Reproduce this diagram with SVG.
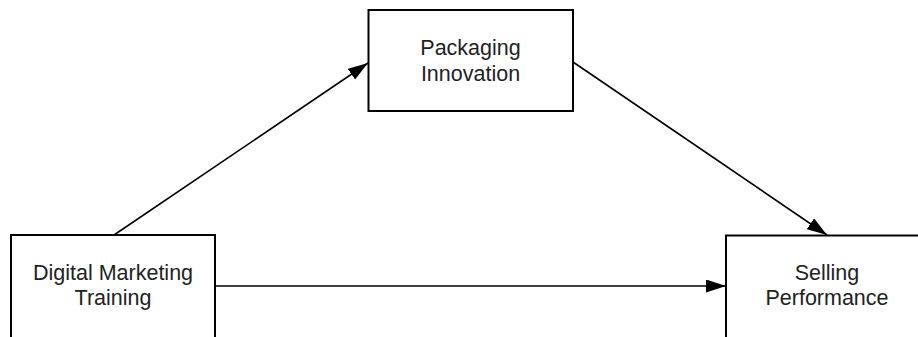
<svg xmlns="http://www.w3.org/2000/svg" width="918" height="337" viewBox="0 0 918 337">
<style>
.box{fill:#fff;stroke:#000;stroke-width:2}
.lbl{font-family:"Liberation Sans",Arial,sans-serif;font-size:21.5px;fill:#222;text-anchor:middle}
.edge{stroke:#000;stroke-width:1.6;fill:none;marker-end:url(#ah)}
</style>
<defs>
<marker id="ah" markerUnits="userSpaceOnUse" markerWidth="21" markerHeight="14" refX="20" refY="6.5" orient="auto">
<path d="M0,0 L20,6.5 L0,13 z" fill="#000"/>
</marker>
</defs>
<rect width="918" height="337" fill="#fff"/>
<g id="connectors">
<line class="edge" x1="114" y1="235" x2="368" y2="63"/>
<line class="edge" x1="573" y1="62" x2="827" y2="235"/>
<line class="edge" x1="215" y1="286" x2="726" y2="286"/>
</g>
<g id="node-dmt">
<rect class="box" x="11" y="235" width="204" height="120"/>
<text class="lbl" x="113" y="280">Digital Marketing</text>
<text class="lbl" x="113" y="305">Training</text>
</g>
<g id="node-pi">
<rect class="box" x="368.5" y="10" width="204.5" height="101"/>
<text class="lbl" x="470.5" y="55">Packaging</text>
<text class="lbl" x="470.5" y="80.5">Innovation</text>
</g>
<g id="node-sp">
<rect class="box" x="726" y="235.5" width="204" height="120"/>
<text class="lbl" x="827" y="280">Selling</text>
<text class="lbl" x="827" y="305">Performance</text>
</g>
</svg>
